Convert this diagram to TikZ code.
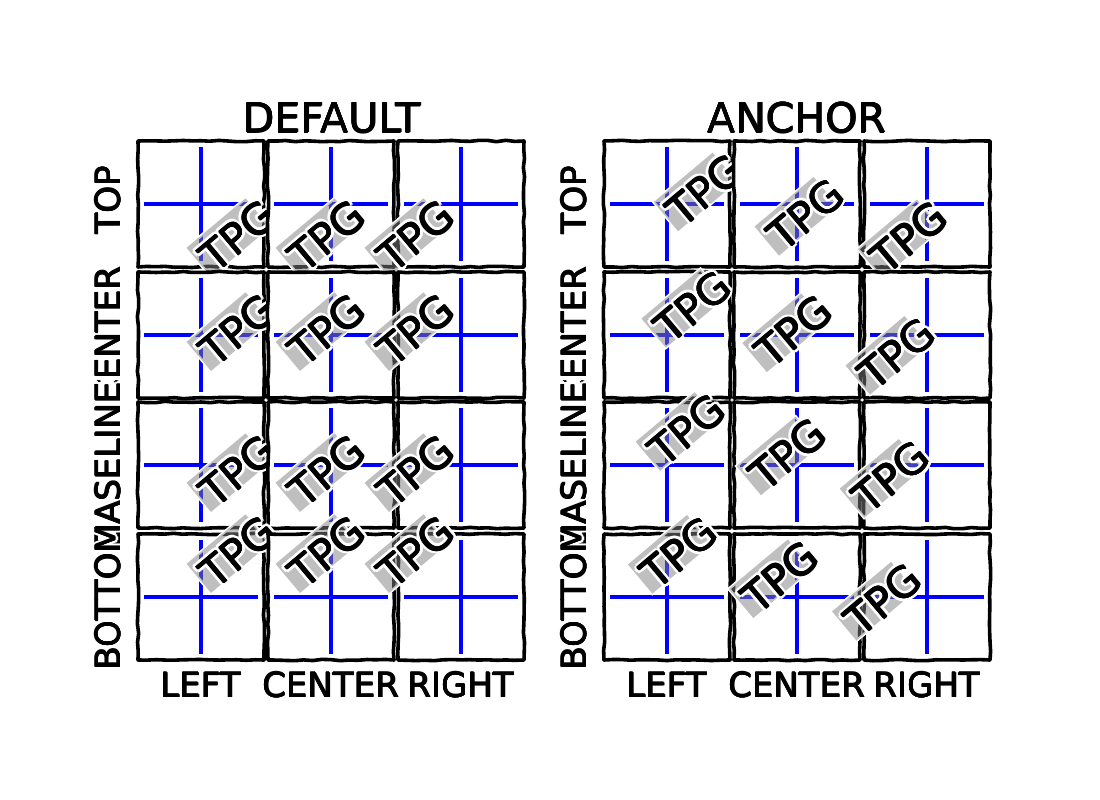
\documentclass[tikz,border=0pt]{standalone}
\usepackage{fontspec}
\setmainfont{DejaVu Sans}
\usetikzlibrary{decorations.pathmorphing,calc}
\begin{document}
\pgfmathsetseed{7}
\begin{tikzpicture}[x=1pt,y=-1pt,
  cellframe/.style={draw=black,line width=3.6,line join=round,decorate,decoration={random steps,segment length=9,amplitude=0.7}},
  guide/.style={draw=blue,line width=3.4},
  tpg/.style={font=\fontsize{42}{44}\selectfont,inner sep=0,rotate=40},
  lab/.style={font=\fontsize{34}{36}\selectfont,inner sep=0},
  ylab/.style={lab,rotate=90},
  ttl/.style={font=\fontsize{41}{44}\selectfont,inner sep=0}]
\fill[white] (0,0) rectangle (1100,800);
\useasboundingbox (0,0) rectangle (1100,800);
% text with white halo (and slightly thickened strokes)
\newcommand\htext[4]{%
  \foreach \a in {0,45,...,315}{\node[#3,text=white] (#1h\a) at ($(#2)+(\a:2.8)$) {#4};}
  \foreach \a in {0,90,180,270}{\node[#3] (#1k\a) at ($(#2)+(\a:0.45)$) {#4};}
  \node[#3] (#1) at (#2) {#4};}
% rotated TPG with its grey box
\newcommand\tpgat[3]{%
  \pgfmathsetmacro\tx{#2}\pgfmathsetmacro\ty{#3}%
  \begin{scope}[shift={(\tx,\ty)},rotate=40]
    \draw[white,line width=3] (-47,14) rectangle (30,-24);
    \fill[gray,opacity=.5] (-47,14) rectangle (30,-24);
    \foreach \a in {0,30,...,330}{\node[tpg,text=white] (h#1-\a) at (\a:3.2) {TPG};}
    \foreach \a in {0,90,180,270}{\node[tpg] (k#1-\a) at (\a:0.5) {TPG};}
    \node[tpg] (t#1) at (0,0) {TPG};
  \end{scope}}
% one cell of a grid
\newcommand\gcell[2]{%
  \fill[white] ({#1-63},{#2-63}) rectangle ({#1+63},{#2+63});
  \draw[guide] (#1,{#2-57}) -- (#1,{#2+57});
  \draw[guide] ({#1-57},#2) -- ({#1+57},#2);
  \draw[cellframe] ({#1-63},{#2-63}) rectangle ({#1+63},{#2+63});}
\newcommand\dcell[5]{\gcell{#2}{#3}\tpgat{#1}{#2+#4}{#3+#5}}
\newcommand\acell[5]{\gcell{#2}{#3}\tpgat{#1}{#2+0.766*(#4)-0.643*(#5)}{#3-0.643*(#4)-0.766*(#5)}}

% ---- default grid ----
\dcell{d11}{201}{204}{37}{32}
\dcell{d12}{331}{204}{-4}{32}
\dcell{d13}{461}{204}{-45}{32}
\dcell{d21}{201}{335}{37}{-5}
\dcell{d22}{331}{335}{-4}{-5}
\dcell{d23}{461}{335}{-45}{-5}
\dcell{d31}{201}{465}{37}{6}
\dcell{d32}{331}{465}{-4}{6}
\dcell{d33}{461}{465}{-45}{6}
\dcell{d41}{201}{597}{37}{-45}
\dcell{d42}{331}{597}{-4}{-45}
\dcell{d43}{461}{597}{-45}{-45}
% ---- anchor grid ----
\acell{a11}{667}{204}{38}{-14}
\acell{a12}{797}{204}{0}{-14}
\acell{a13}{927}{204}{-35}{-14}
\acell{a21}{667}{335}{38}{5}
\acell{a22}{797}{335}{0}{5}
\acell{a23}{927}{335}{-35}{5}
\acell{a31}{667}{465}{38}{14}
\acell{a32}{797}{465}{0}{14}
\acell{a33}{927}{465}{-35}{14}
\acell{a41}{667}{597}{38}{26}
\acell{a42}{797}{597}{0}{26}
\acell{a43}{927}{597}{-35}{26}

% ---- titles ----
\htext{tdef}{332,118}{ttl}{DEFAULT}
\htext{tanc}{797,118}{ttl}{ANCHOR}
% ---- x labels ----
\htext{xl1}{201,685}{lab}{LEFT}
\htext{xl2}{331,685}{lab}{CENTER}
\htext{xl3}{461,685}{lab}{RIGHT}
\htext{xr1}{667,685}{lab}{LEFT}
\htext{xr2}{797,685}{lab}{CENTER}
\htext{xr3}{927,685}{lab}{RIGHT}
% ---- y labels ----
\htext{yl1}{108,200}{ylab}{TOP}
\htext{yl2}{108,335}{ylab}{CENTER}
\htext{yl3}{108,465}{ylab}{BASELINE}
\htext{yl4}{108,597}{ylab}{BOTTOM}
\htext{yr1}{574,200}{ylab}{TOP}
\htext{yr2}{574,335}{ylab}{CENTER}
\htext{yr3}{574,465}{ylab}{BASELINE}
\htext{yr4}{574,597}{ylab}{BOTTOM}
\end{tikzpicture}
\end{document}
